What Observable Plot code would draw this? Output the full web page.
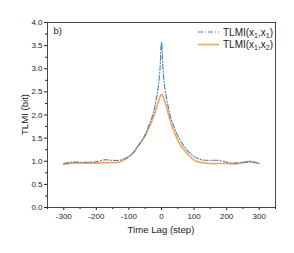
<!DOCTYPE html>
<html>
<head>
<meta charset="utf-8">
<script src="https://cdn.jsdelivr.net/npm/d3@7"></script>
<script src="https://cdn.jsdelivr.net/npm/@observablehq/plot@0.6"></script>
<style>
body{margin:0;background:#fff;}
#chart{position:relative;width:294px;height:253px;}
svg{font-family:"Liberation Sans",Arial,sans-serif;}
</style>
</head>
<body>
<div id="chart"></div>
<script>
const lags = [-300,-275,-250,-225,-200,-175,-150,-130,-115,-100,-85,-75,-60,-50,-40,-30,-25,-20,-15,-10,-5,0,5,10,15,20,25,30,40,50,60,75,85,100,115,125,150,175,200,225,250,270,285,300];
const tlmi11 = [0.95,0.98,0.98,0.98,0.99,1.03,1.02,1.02,1.05,1.10,1.20,1.30,1.45,1.58,1.75,1.93,2.05,2.20,2.38,2.60,2.95,3.57,2.95,2.60,2.38,2.20,2.03,1.90,1.72,1.55,1.42,1.27,1.19,1.10,1.05,1.03,1.02,1.02,0.98,0.96,0.98,0.98,0.98,0.95];
const tlmi12 = [0.93,0.96,0.96,0.96,0.96,0.97,0.97,0.98,1.03,1.10,1.20,1.30,1.45,1.55,1.70,1.86,1.95,2.05,2.16,2.27,2.38,2.45,2.40,2.30,2.18,2.05,1.92,1.80,1.62,1.45,1.33,1.20,1.12,1.03,0.98,0.97,0.95,0.95,0.95,0.94,0.97,1.00,0.98,0.95];
const xTicks = [-300,-200,-100,0,100,200,300];
const xMinor = [-350,-250,-150,-50,50,150,250,350];
const yTicks = [0,0.5,1,1.5,2,2.5,3,3.5,4];
const yMinor = [0.25,0.75,1.25,1.75,2.25,2.75,3.25,3.75];
const seriesNames = ["TLMI(x\u2081,x\u2081)","TLMI(x\u2081,x\u2082)"];
const colors = ["#3f7fc2","#fba258"];

const d11 = lags.map((x,i)=>({x, y:tlmi11[i]}));
const d12 = lags.map((x,i)=>({x, y:tlmi12[i]}));

const plot = Plot.plot({
  width:294, height:253,
  marginLeft:47, marginRight:19, marginTop:22, marginBottom:46,
  style:{fontFamily:"Liberation Sans, Arial, sans-serif", fontSize:"8px", color:"#222"},
  x:{domain:[-350,350]},
  y:{domain:[0,4]},
  marks:[
    Plot.axisX({ticks:xTicks, tickSize:3, tickPadding:3, tickFormat:d=>d, label:null, fontSize:8}),
    Plot.axisX({ticks:xMinor, tickSize:2, tickFormat:()=>"" , label:null}),
    Plot.axisY({ticks:yTicks, tickSize:3, tickPadding:2, tickFormat:d3.format(".1f"), label:null, fontSize:8}),
    Plot.axisY({ticks:yMinor, tickSize:2, tickFormat:()=>"", label:null}),
    Plot.line(d12,{x:"x", y:"y", stroke:colors[1], strokeWidth:1.6, curve:"catmull-rom"}),
    Plot.line(d11,{x:"x", y:"y", stroke:colors[0], strokeWidth:1.1, strokeDasharray:"5,2,1,2", curve:"catmull-rom"}),
    Plot.frame({stroke:"#333", strokeWidth:0.9}),
    Plot.text(["b)"],{frameAnchor:"top-left", dx:6, dy:5, fontSize:9.5, textAnchor:"start", fill:"#222"})
  ]
});
document.getElementById("chart").appendChild(plot);

// legend and axis titles
const svg = d3.select(plot);
const leg = svg.append("g").attr("text-anchor","start");
const rows = [
  {name:seriesNames[0], color:colors[0], dash:"5,2,1,2", w:1.1, y:32},
  {name:seriesNames[1], color:colors[1], dash:null, w:1.6, y:44.5}
];
rows.forEach(r=>{
  leg.append("line").attr("x1",198).attr("x2",219).attr("y1",r.y).attr("y2",r.y)
    .attr("stroke",r.color).attr("stroke-width",r.w).attr("stroke-dasharray",r.dash);
  const t = leg.append("text").attr("x",223).attr("y",r.y+3.5).attr("text-anchor","start")
    .attr("font-size",10).attr("fill","#222");
  const parts = r.name.match(/[^\u2080-\u2089]+|[\u2080-\u2089]/g);
  let shift = 0;
  parts.forEach(p=>{
    if (/[\u2080-\u2089]/.test(p)) {
      t.append("tspan").attr("font-size",7).attr("dy",2 - shift).text(String(p.charCodeAt(0)-0x2080));
      shift = 2;
    } else {
      t.append("tspan").attr("dy",-shift).text(p);
      shift = 0;
    }
  });
});
svg.append("text").attr("x",161).attr("y",233).attr("text-anchor","middle")
  .attr("font-size",9.6).attr("fill","#222").text("Time Lag (step)");
svg.append("text").attr("transform","translate(25,114.5) rotate(-90)").attr("text-anchor","middle")
  .attr("dy","0.35em").attr("font-size",9.6).attr("fill","#222").text("TLMI (bit)");
</script>
</body>
</html>
